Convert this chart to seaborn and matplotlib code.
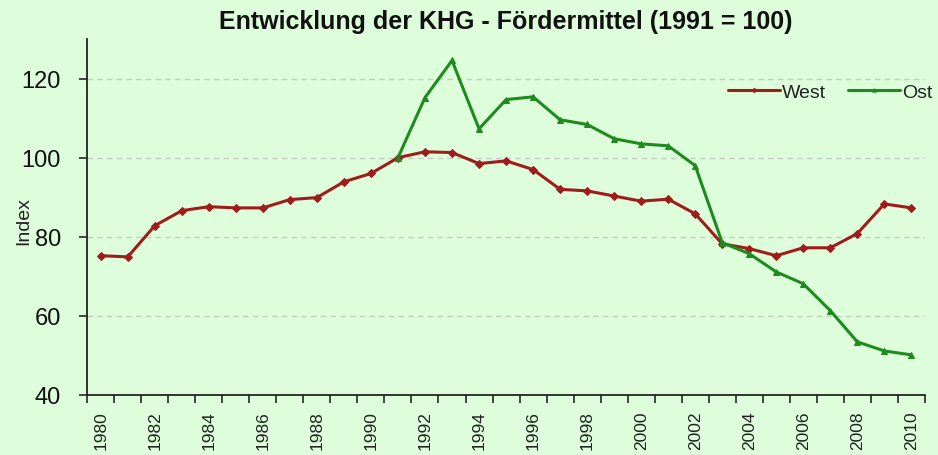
import numpy as np
import pandas as pd
import matplotlib
matplotlib.use("Agg")
import matplotlib.pyplot as plt
import seaborn as sns

sns.set_style("white")
plt.rcParams['font.family'] = ['Liberation Sans', 'DejaVu Sans']

# Daten (1991 = 100)
years = list(range(1980, 2011))
west = [75.2, 74.9, 82.8, 86.6, 87.6, 87.3, 87.3, 89.4, 89.9, 93.9,
        96.0, 100.0, 101.5, 101.3, 98.5, 99.2, 97.0, 92.0, 91.6, 90.3,
        89.0, 89.5, 85.8, 78.2, 77.0, 75.2, 77.2, 77.2, 80.8, 88.3, 87.3]
ost_years = list(range(1991, 2011))
ost = [100.0, 115.2, 124.6, 107.3, 114.7, 115.4, 109.6, 108.4, 104.8, 103.5,
       103.0, 98.0, 78.5, 75.7, 71.1, 68.1, 61.3, 53.4, 51.1, 50.1]

df = pd.concat([
    pd.DataFrame({'pos': [years.index(y) for y in years], 'Index': west, 'Region': 'West'}),
    pd.DataFrame({'pos': [years.index(y) for y in ost_years], 'Index': ost, 'Region': 'Ost'}),
])

farben = {'West': '#9E1C1C', 'Ost': '#1E8B1E'}
bg = '#DDFDDB'
fig = plt.figure(figsize=(9.38, 4.56), dpi=100, facecolor=bg)
ax = fig.add_axes([0.093, 0.132, 0.893, 0.780], facecolor=bg)

sns.lineplot(data=df, x='pos', y='Index', hue='Region', style='Region',
             palette=farben, markers={'West': 'D', 'Ost': '^'}, dashes=False,
             markersize=5, linewidth=2.2, ax=ax)
# Markerränder in Linienfarbe
for line in ax.lines:
    line.set_markeredgecolor(line.get_color())
    if line.get_marker() == 'D':
        line.set_markersize(4.5)

ax.set_xlim(-0.5, len(years) - 0.5)
ax.set_ylim(40, 130)
ax.set_yticks([40, 60, 80, 100, 120])
ax.tick_params(axis='y', labelsize=17, length=6, width=1.2, direction='out',
               left=True, pad=13, labelcolor='#111111')

ax.set_xticks(range(0, len(years), 2))
ax.set_xticklabels([str(y) for y in years[::2]], rotation=90, fontsize=12.5,
                   color='#222222')
ax.set_xticks(np.arange(-0.5, len(years), 1.0), minor=True)
ax.tick_params(axis='x', which='major', length=0, pad=11)
ax.tick_params(axis='x', which='minor', length=6, width=1.2, direction='out', bottom=True)

for v in [60, 80, 100, 120]:
    ax.axhline(v, color='#C4CCC4', linestyle=(0, (4, 3)), linewidth=1, zorder=0)

for s in ['top', 'right']:
    ax.spines[s].set_visible(False)
for s in ['left', 'bottom']:
    ax.spines[s].set_color('#222222')
    ax.spines[s].set_linewidth(1.3)

ax.set_xlabel('')
ax.set_ylabel('Index', fontsize=14, color='#222222')
ax.yaxis.set_label_coords(-0.066, 0.49)
ax.set_title('Entwicklung der KHG - Fördermittel (1991 = 100)', fontsize=18,
             fontweight='bold', pad=8, color='#111111')

leg = ax.legend(title=None, ncol=2, frameon=False, fontsize=14, loc='upper right',
                bbox_to_anchor=(1.03, 0.925), handlelength=2.7, columnspacing=1.1,
                handletextpad=0.1, markerscale=0.5)
for t in leg.get_texts():
    t.set_color('#222222')

fig.savefig('out.png', dpi=100, facecolor=bg)
